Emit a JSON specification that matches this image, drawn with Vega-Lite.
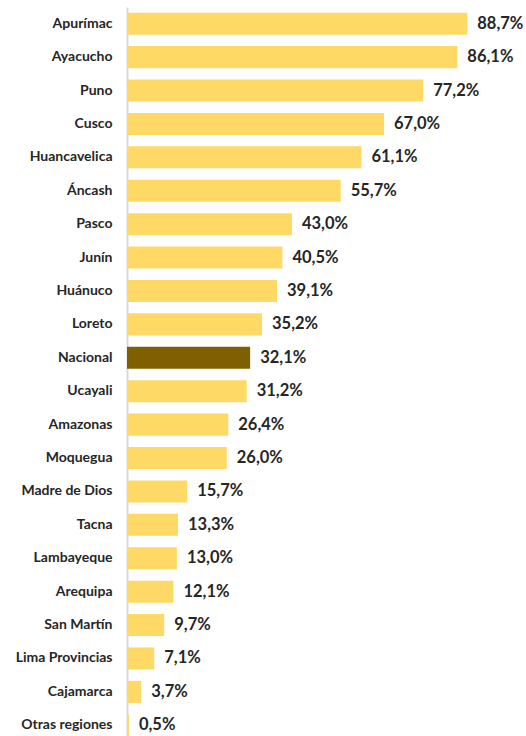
{
  "$schema": "https://vega.github.io/schema/vega-lite/v6.json",
  "autosize": {"type": "none"},
  "width": 399,
  "height": 735,
  "padding": {"left": 127, "top": 7, "right": 0, "bottom": 0},
  "background": "white",
  "data": {"values": [
    {"region": "Apurímac", "value": 88.7, "label": "88,7%", "tipo": "region"},
    {"region": "Ayacucho", "value": 86.1, "label": "86,1%", "tipo": "region"},
    {"region": "Puno", "value": 77.2, "label": "77,2%", "tipo": "region"},
    {"region": "Cusco", "value": 67.0, "label": "67,0%", "tipo": "region"},
    {"region": "Huancavelica", "value": 61.1, "label": "61,1%", "tipo": "region"},
    {"region": "Áncash", "value": 55.7, "label": "55,7%", "tipo": "region"},
    {"region": "Pasco", "value": 43.0, "label": "43,0%", "tipo": "region"},
    {"region": "Junín", "value": 40.5, "label": "40,5%", "tipo": "region"},
    {"region": "Huánuco", "value": 39.1, "label": "39,1%", "tipo": "region"},
    {"region": "Loreto", "value": 35.2, "label": "35,2%", "tipo": "region"},
    {"region": "Nacional", "value": 32.1, "label": "32,1%", "tipo": "nacional"},
    {"region": "Ucayali", "value": 31.2, "label": "31,2%", "tipo": "region"},
    {"region": "Amazonas", "value": 26.4, "label": "26,4%", "tipo": "region"},
    {"region": "Moquegua", "value": 26.0, "label": "26,0%", "tipo": "region"},
    {"region": "Madre de Dios", "value": 15.7, "label": "15,7%", "tipo": "region"},
    {"region": "Tacna", "value": 13.3, "label": "13,3%", "tipo": "region"},
    {"region": "Lambayeque", "value": 13.0, "label": "13,0%", "tipo": "region"},
    {"region": "Arequipa", "value": 12.1, "label": "12,1%", "tipo": "region"},
    {"region": "San Martín", "value": 9.7, "label": "9,7%", "tipo": "region"},
    {"region": "Lima Provincias", "value": 7.1, "label": "7,1%", "tipo": "region"},
    {"region": "Cajamarca", "value": 3.7, "label": "3,7%", "tipo": "region"},
    {"region": "Otras regiones", "value": 0.5, "label": "0,5%", "tipo": "region"}
  ]},
  "encoding": {
    "y": {
      "field": "region", "type": "nominal", "sort": null,
      "scale": {"paddingInner": 0.34, "paddingOuter": 0.17},
      "axis": {
        "title": null, "ticks": false, "domain": true, "domainColor": "#D9D9D9", "domainWidth": 2,
        "labelFont": "Lato", "labelFontWeight": "bold", "labelFontSize": 14, "labelColor": "#262626",
        "labelPadding": 15
      }
    },
    "x": {
      "field": "value", "type": "quantitative",
      "scale": {"domain": [0, 104], "nice": false},
      "axis": null
    }
  },
  "layer": [
    {
      "mark": {"type": "bar"},
      "encoding": {
        "color": {
          "field": "tipo", "type": "nominal",
          "scale": {"domain": ["region", "nacional"], "range": ["#FFD966", "#7F6000"]},
          "legend": null
        }
      }
    },
    {
      "mark": {"type": "text", "align": "left", "baseline": "middle", "dx": 10, "font": "Lato", "fontWeight": "bold", "fontSize": 16.5, "color": "#262626"},
      "encoding": {"text": {"field": "label"}}
    }
  ],
  "config": {"view": {"stroke": null}}
}
